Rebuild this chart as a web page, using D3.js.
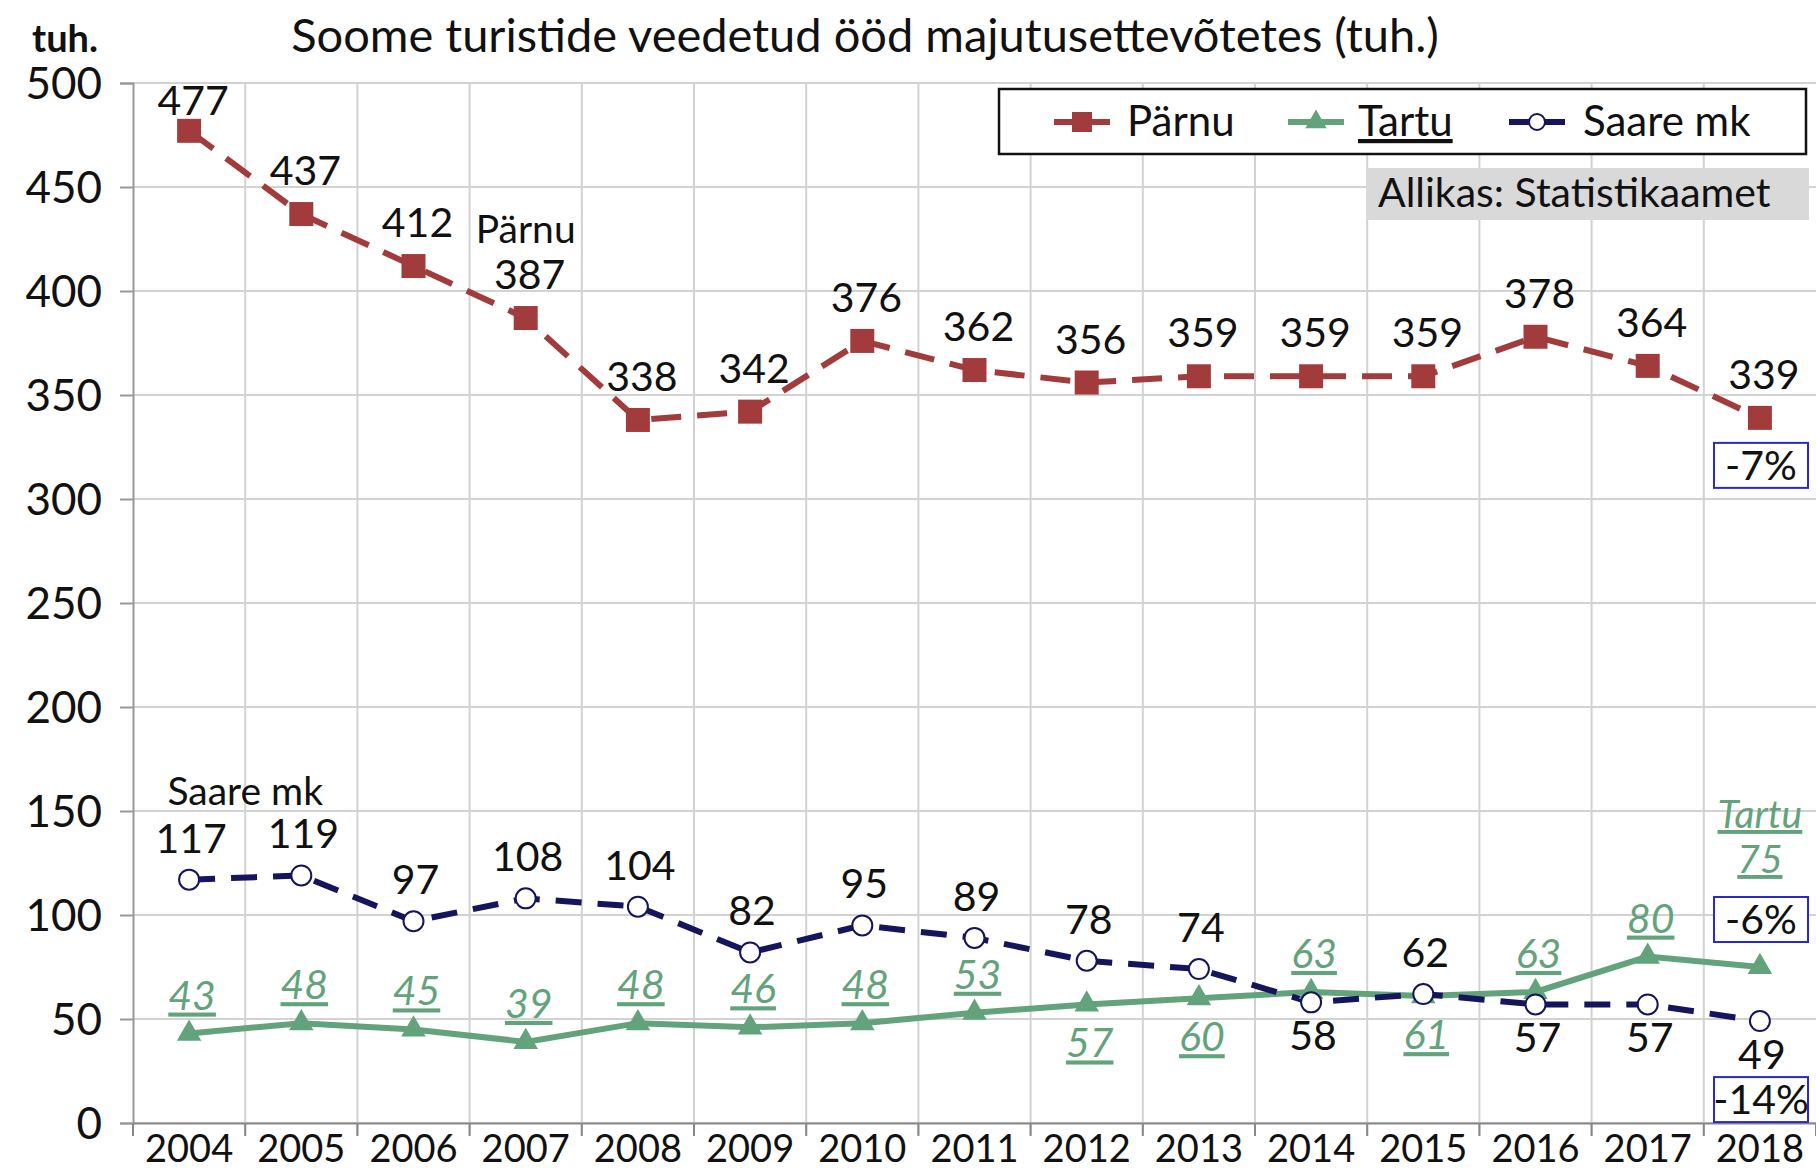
<!DOCTYPE html>
<html>
<head>
<meta charset="utf-8">
<script src="https://cdn.jsdelivr.net/npm/d3@7"></script>
<style>
  body { margin: 0; background: #fff; }
  svg text { font-family: Lato, "Noto Sans", sans-serif; fill: #111; }
</style>
</head>
<body>
<svg id="chart" width="1816" height="1176"></svg>
<script>
"use strict";

// data
const years = ["2004","2005","2006","2007","2008","2009","2010","2011","2012","2013","2014","2015","2016","2017","2018"];
const parnu = [477, 437, 412, 387, 338, 342, 376, 362, 356, 359, 359, 359, 378, 364, 339];
const tartu = [43, 48, 45, 39, 48, 46, 48, 53, 57, 60, 63, 61, 63, 80, 75];
const saare = [117, 119, 97, 108, 104, 82, 95, 89, 78, 74, 58, 62, 57, 57, 49];
const yTicks = [0, 50, 100, 150, 200, 250, 300, 350, 400, 450, 500];
const changes = { parnu: "-7%", tartu: "-6%", saare: "-14%" };

// which side of the point the value label sits on
const tartuSide = ["a","a","a","a","a","a","a","a","b","b","a","b","a","a","a"];
const saareSide = ["a","a","a","a","a","a","a","a","a","a","b","a","b","b","b"];

const colParnu = "#a23c3c", colTartu = "#63a37c", colSaare = "#15155e", colBox = "#2a2ac8";

const svg = d3.select("#chart");
const margin = {top: 83, right: 0, bottom: 53, left: 133};
const W = +svg.attr("width"), H = +svg.attr("height");

const x = d3.scaleBand().domain(years).range([margin.left, W - margin.right]);
const y = d3.scaleLinear().domain([0, 500]).range([H - margin.bottom, margin.top]);
const cx = d => x(d) + x.bandwidth() / 2;

// grid
svg.append("g").selectAll("line").data(yTicks).enter().append("line")
  .attr("x1", margin.left).attr("x2", W).attr("y1", d => y(d)).attr("y2", d => y(d))
  .attr("stroke", "#d2d2d2").attr("stroke-width", 2);
svg.append("g").selectAll("line").data(years.slice(1)).enter().append("line")
  .attr("x1", d => x(d)).attr("x2", d => x(d)).attr("y1", y(500)).attr("y2", y(0) + 12)
  .attr("stroke", "#d2d2d2").attr("stroke-width", 2);

// y axis
const yAxis = svg.append("g")
  .attr("transform", `translate(${margin.left},0)`)
  .call(d3.axisLeft(y).tickValues(yTicks).tickSize(13).tickPadding(18));
yAxis.select(".domain").attr("stroke", "#999").attr("stroke-width", 2);
yAxis.selectAll(".tick line").attr("stroke", "#999").attr("stroke-width", 2);
yAxis.selectAll(".tick text").style("font-size", "44px").attr("dy", "0.36em");

// x axis
const xAxis = svg.append("g")
  .attr("transform", `translate(0,${y(0)})`)
  .call(d3.axisBottom(x).tickSize(0).tickPadding(12));
xAxis.select(".domain").attr("stroke", "#888").attr("stroke-width", 2);
xAxis.selectAll(".tick text").style("font-size", "38px");
svg.append("g").selectAll("line").data(years.concat(["end"])).enter().append("line")
  .attr("x1", (d, i) => margin.left + i * x.bandwidth())
  .attr("x2", (d, i) => margin.left + i * x.bandwidth())
  .attr("y1", y(0)).attr("y2", y(0) + 13)
  .attr("stroke", "#888").attr("stroke-width", 2);

// title
svg.append("text").attr("x", 32).attr("y", 52)
  .style("font-size", "38px").style("font-weight", "bold").text("tuh.");
svg.append("text").attr("x", 865).attr("y", 52).attr("text-anchor", "middle")
  .style("font-size", "47px").text("Soome turistide veedetud ööd majutusettevõtetes (tuh.)");

// lines
const line = vals => d3.line().x((d, i) => cx(years[i])).y(d => y(d))(vals);

svg.append("path").attr("d", line(tartu)).attr("fill", "none")
  .attr("stroke", colTartu).attr("stroke-width", 6);
svg.append("path").attr("d", line(saare)).attr("fill", "none")
  .attr("stroke", colSaare).attr("stroke-width", 6).attr("stroke-dasharray", "26,16");
svg.append("path").attr("d", line(parnu)).attr("fill", "none")
  .attr("stroke", colParnu).attr("stroke-width", 6).attr("stroke-dasharray", "30,16");

// markers
const tri = d3.symbol().type(d3.symbolTriangle).size(260);
svg.append("g").selectAll("path").data(tartu).enter().append("path")
  .attr("d", tri).attr("fill", colTartu)
  .attr("transform", (d, i) => `translate(${cx(years[i])},${y(d)})`);
svg.append("g").selectAll("circle").data(saare).enter().append("circle")
  .attr("cx", (d, i) => cx(years[i])).attr("cy", d => y(d)).attr("r", 10)
  .attr("fill", "#fff").attr("stroke", colSaare).attr("stroke-width", 2);
svg.append("g").selectAll("rect").data(parnu).enter().append("rect")
  .attr("x", (d, i) => cx(years[i]) - 12).attr("y", d => y(d) - 12)
  .attr("width", 24).attr("height", 24).attr("fill", colParnu);

// value labels
svg.append("g").selectAll("text").data(parnu).enter().append("text")
  .attr("x", (d, i) => cx(years[i]) + 4).attr("y", (d, i) => y(d) - (i === 0 ? 16 : 29))
  .attr("text-anchor", "middle").style("font-size", "41px").text(d => d);

svg.append("g").selectAll("text").data(saare).enter().append("text")
  .attr("x", (d, i) => cx(years[i]) + 2)
  .attr("y", (d, i) => saareSide[i] === "a" ? y(d) - 27 : y(d) + 48)
  .attr("text-anchor", "middle").style("font-size", "41px").text(d => d);

svg.append("g").selectAll("text").data(tartu.slice(0, -1)).enter().append("text")
  .attr("x", (d, i) => cx(years[i]) + 3)
  .attr("y", (d, i) => tartuSide[i] === "a" ? y(d) - 24 : y(d) + 53)
  .attr("text-anchor", "middle").style("font-size", "41px").style("font-style", "italic")
  .style("text-decoration", "underline").style("fill", colTartu).text(d => d);

// series name annotations
svg.append("text").attr("x", cx("2007")).attr("y", 243).attr("text-anchor", "middle")
  .style("font-size", "39px").text("Pärnu");
svg.append("text").attr("x", x("2005")).attr("y", 805).attr("text-anchor", "middle")
  .style("font-size", "39px").text("Saare mk");
const last = years[years.length - 1];
svg.append("text").attr("x", cx(last)).attr("y", y(tartu[14]) - 139).attr("text-anchor", "middle")
  .style("font-size", "39px").style("font-style", "italic").style("text-decoration", "underline")
  .style("fill", colTartu).text("Tartu");
svg.append("text").attr("x", cx(last)).attr("y", y(tartu[14]) - 94).attr("text-anchor", "middle")
  .style("font-size", "39px").style("font-style", "italic").style("text-decoration", "underline")
  .style("fill", colTartu).text(tartu[14]);

// change boxes
function changeBox(label, top) {
  const g = svg.append("g");
  g.append("rect").attr("x", 1714).attr("y", top).attr("width", 94).attr("height", 45)
    .attr("fill", "#fff").attr("stroke", colBox).attr("stroke-width", 2);
  g.append("text").attr("x", 1761).attr("y", top + 37).attr("text-anchor", "middle")
    .style("font-size", "41px").text(label);
}
changeBox(changes.parnu, y(parnu[14]) + 25);
changeBox(changes.tartu, y(tartu[14]) - 70);
changeBox(changes.saare, y(saare[14]) + 56);

// legend
const lg = svg.append("g");
lg.append("rect").attr("x", 999).attr("y", 89).attr("width", 807).attr("height", 65)
  .attr("fill", "#fff").attr("stroke", "#111").attr("stroke-width", 2.5);
const legendData = [
  {label: "Pärnu", color: colParnu, x0: 1054, tx: 1127, mark: "sq", ul: false},
  {label: "Tartu", color: colTartu, x0: 1288, tx: 1358, mark: "tri", ul: true},
  {label: "Saare mk", color: colSaare, x0: 1509, tx: 1583, mark: "circ", ul: false}
];
legendData.forEach(d => {
  lg.append("line").attr("x1", d.x0).attr("x2", d.x0 + 56).attr("y1", 122).attr("y2", 122)
    .attr("stroke", d.color).attr("stroke-width", 6);
  const mx = d.x0 + 28;
  if (d.mark === "sq") {
    lg.append("rect").attr("x", mx - 10).attr("y", 112).attr("width", 20).attr("height", 20).attr("fill", d.color);
  } else if (d.mark === "tri") {
    lg.append("path").attr("d", d3.symbol().type(d3.symbolTriangle).size(200)())
      .attr("transform", `translate(${mx},122)`).attr("fill", d.color);
  } else {
    lg.append("circle").attr("cx", mx).attr("cy", 122).attr("r", 8)
      .attr("fill", "#fff").attr("stroke", d.color).attr("stroke-width", 2);
  }
  lg.append("text").attr("x", d.tx).attr("y", 136).style("font-size", "42px")
    .style("text-decoration", d.ul ? "underline" : "none").text(d.label);
});

// source
svg.append("rect").attr("x", 1366).attr("y", 168).attr("width", 443).attr("height", 52).attr("fill", "#d9d9d9");
svg.append("text").attr("x", 1378).attr("y", 207).style("font-size", "41px").text("Allikas: Statistikaamet");
</script>
</body>
</html>
